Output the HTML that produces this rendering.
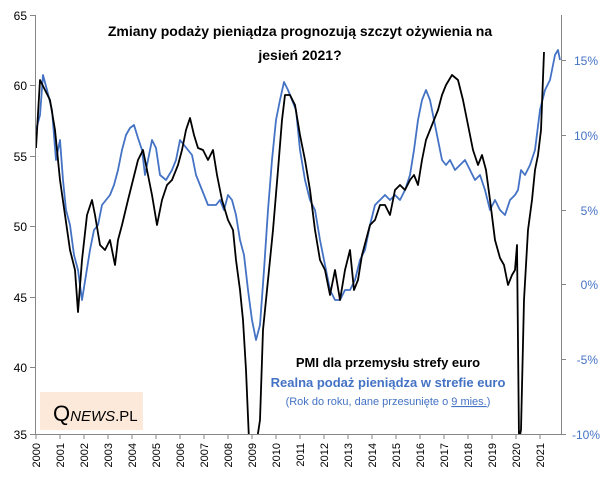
<!DOCTYPE html>
<html><head><meta charset="utf-8"><style>
body{margin:0;background:#fff;}
svg text{font-family:"Liberation Sans",sans-serif;}
</style></head><body>
<svg width="604" height="479" viewBox="0 0 604 479" xmlns="http://www.w3.org/2000/svg">
<rect width="604" height="479" fill="#fff"/>
<g stroke="#868686" stroke-width="1" fill="none">
<line x1="35.5" y1="15" x2="35.5" y2="434"/>
<line x1="561.5" y1="15" x2="561.5" y2="434"/>
<line x1="30" y1="434.5" x2="566" y2="434.5"/>
<line x1="30" y1="15.5" x2="35" y2="15.5"/><line x1="30" y1="85.5" x2="35" y2="85.5"/><line x1="30" y1="156.5" x2="35" y2="156.5"/><line x1="30" y1="226.5" x2="35" y2="226.5"/><line x1="30" y1="297.5" x2="35" y2="297.5"/><line x1="30" y1="367.5" x2="35" y2="367.5"/>
<line x1="561" y1="60.5" x2="566" y2="60.5"/><line x1="561" y1="135.5" x2="566" y2="135.5"/><line x1="561" y1="210.5" x2="566" y2="210.5"/><line x1="561" y1="284.5" x2="566" y2="284.5"/><line x1="561" y1="359.5" x2="566" y2="359.5"/>
</g>
<g stroke="#868686">
<line x1="36" y1="434" x2="36" y2="439"/><line x1="60" y1="434" x2="60" y2="439"/><line x1="84" y1="434" x2="84" y2="439"/><line x1="108" y1="434" x2="108" y2="439"/><line x1="132" y1="434" x2="132" y2="439"/><line x1="156" y1="434" x2="156" y2="439"/><line x1="180" y1="434" x2="180" y2="439"/><line x1="204" y1="434" x2="204" y2="439"/><line x1="228" y1="434" x2="228" y2="439"/><line x1="252" y1="434" x2="252" y2="439"/><line x1="276" y1="434" x2="276" y2="439"/><line x1="300" y1="434" x2="300" y2="439"/><line x1="324" y1="434" x2="324" y2="439"/><line x1="348" y1="434" x2="348" y2="439"/><line x1="372" y1="434" x2="372" y2="439"/><line x1="396" y1="434" x2="396" y2="439"/><line x1="420" y1="434" x2="420" y2="439"/><line x1="444" y1="434" x2="444" y2="439"/><line x1="468" y1="434" x2="468" y2="439"/><line x1="492" y1="434" x2="492" y2="439"/><line x1="516" y1="434" x2="516" y2="439"/><line x1="540" y1="434" x2="540" y2="439"/>
</g>
<g font-size="12" fill="#000" text-anchor="end">
<text x="27" y="20">65</text><text x="27" y="90">60</text><text x="27" y="161">55</text><text x="27" y="231">50</text><text x="27" y="302">45</text><text x="27" y="372">40</text><text x="27" y="439">35</text>
</g>
<g font-size="12" fill="#4472c4" text-anchor="end">
<text x="598" y="65">15%</text><text x="598" y="140">10%</text><text x="598" y="215">5%</text><text x="598" y="289">0%</text><text x="598" y="364">-5%</text><text x="600" y="439">-10%</text>
</g>
<g font-size="11" fill="#000" text-anchor="end">
<text transform="translate(40,443) rotate(-90)">2000</text><text transform="translate(64,443) rotate(-90)">2001</text><text transform="translate(88,443) rotate(-90)">2002</text><text transform="translate(112,443) rotate(-90)">2003</text><text transform="translate(136,443) rotate(-90)">2004</text><text transform="translate(160,443) rotate(-90)">2005</text><text transform="translate(184,443) rotate(-90)">2006</text><text transform="translate(208,443) rotate(-90)">2007</text><text transform="translate(232,443) rotate(-90)">2008</text><text transform="translate(256,443) rotate(-90)">2009</text><text transform="translate(280,443) rotate(-90)">2010</text><text transform="translate(304,443) rotate(-90)">2011</text><text transform="translate(328,443) rotate(-90)">2012</text><text transform="translate(352,443) rotate(-90)">2013</text><text transform="translate(376,443) rotate(-90)">2014</text><text transform="translate(400,443) rotate(-90)">2015</text><text transform="translate(424,443) rotate(-90)">2016</text><text transform="translate(448,443) rotate(-90)">2017</text><text transform="translate(472,443) rotate(-90)">2018</text><text transform="translate(496,443) rotate(-90)">2019</text><text transform="translate(520,443) rotate(-90)">2020</text><text transform="translate(544,443) rotate(-90)">2021</text>
</g>
<defs><clipPath id="c"><rect x="36" y="0" width="525" height="434"/></clipPath></defs>
<g clip-path="url(#c)" fill="none" stroke-linejoin="round">
<polyline stroke="#4472c4" stroke-width="1.8" points="36,130 40,115 43,75 47,90 52,110 56,160 60,140 63,180 66,210 70,225 74,255 78,270 82,300 86,275 90,250 94,230 98,225 102,205 106,200 110,195 114,185 118,170 122,150 126,135 130,128 134,125 138,138 142,150 145,175 148,160 152,140 156,148 160,175 166,180 172,170 176,160 180,140 184,145 188,150 192,155 196,175 200,185 204,195 208,205 212,205 216,205 220,200 224,210 228,195 232,200 236,215 240,240 244,255 248,290 252,320 256,340 260,325 264,270 268,210 272,160 276,120 280,100 284,82 288,90 292,100 296,110 300,150 305,180 310,200 315,210 320,240 325,265 330,290 335,300 340,300 345,290 350,290 355,280 360,260 365,250 370,225 375,205 380,200 385,195 390,200 395,195 400,200 405,190 410,175 414,150 418,120 422,100 426,90 430,100 434,120 438,140 442,160 446,165 450,160 455,170 460,165 465,160 470,170 475,180 480,175 485,190 490,210 495,200 500,210 505,215 510,200 515,195 518,190 521,170 525,175 530,165 535,150 540,110 545,90 550,80 555,55 558,50 560,60"/>
<polyline stroke="#000" stroke-width="1.8" points="36,148 40,80 45,90 50,100 55,130 60,180 65,215 70,250 75,270 78,312 82,260 87,215 92,200 95,215 100,245 105,250 110,240 115,265 118,240 122,225 128,200 133,180 138,160 143,150 147,170 152,195 157,225 162,200 167,185 172,180 178,165 182,150 186,130 190,118 194,135 198,148 203,150 208,160 213,150 217,175 222,200 228,220 233,230 236,260 240,290 243,320 246,370 249,440 257,440 260,420 263,330 268,280 273,230 278,170 282,120 285,95 290,95 295,105 300,135 305,160 310,190 315,230 320,260 325,270 330,295 335,270 340,300 345,270 350,250 354,290 358,280 362,255 366,240 370,225 375,220 380,205 385,205 390,215 395,190 400,185 405,190 410,180 414,175 418,185 422,160 426,140 430,130 434,120 438,110 442,95 446,85 452,75 458,80 463,100 468,125 473,150 478,165 482,155 486,170 490,200 495,240 500,258 504,265 508,285 512,275 515,270 517,245 519,440 521,430 524,300 528,230 532,200 535,170 538,155 541,130 544,52"/>
</g>
<text x="300" y="36" font-size="14" font-weight="bold" text-anchor="middle" fill="#000">Zmiany podaży pieniądza prognozują szczyt ożywienia na</text>
<text x="300" y="60" font-size="14" font-weight="bold" text-anchor="middle" fill="#000">jesień 2021?</text>
<text x="388" y="367" font-size="13" font-weight="bold" text-anchor="middle" fill="#000">PMI dla przemysłu strefy euro</text>
<text x="388" y="387" font-size="13" font-weight="bold" text-anchor="middle" fill="#4472c4">Realna podaż pieniądza w strefie euro</text>
<text x="388" y="405" font-size="11" text-anchor="middle" fill="#4472c4">(Rok do roku, dane przesunięte o <tspan text-decoration="underline">9 mies.</tspan>)</text>
<rect x="40" y="392" width="103" height="38" fill="#fde9d9"/>
<text x="53" y="421" font-family="Liberation Serif" font-size="22" fill="#000">Q<tspan font-size="15" font-style="italic" font-family="Liberation Sans">NEWS</tspan><tspan font-size="15" font-family="Liberation Sans">.PL</tspan></text>
</svg>
</body></html>
